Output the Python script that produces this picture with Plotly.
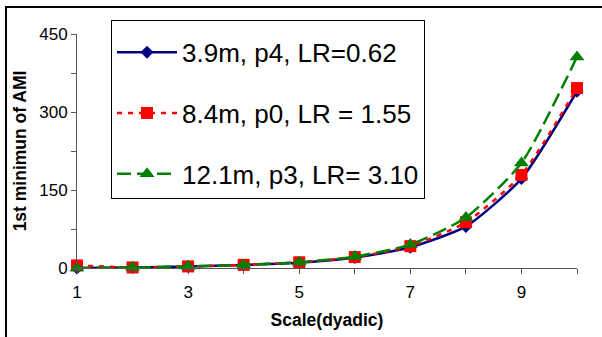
import plotly.graph_objects as go

scale = [1, 2, 3, 4, 5, 6, 7, 8, 9, 10]
s1_name = "3.9m, p4, LR=0.62"
s1 = [0, 1, 3, 6, 10, 20, 40, 80, 172, 340]
s2_name = "8.4m, p0, LR = 1.55"
s2 = [5, 1, 3, 6, 11, 21, 42, 88, 179, 346]
s3_name = "12.1m, p3, LR= 3.10"
s3 = [0, 1, 3, 6, 11, 22, 45, 97, 202, 406]

x_ticks = [1, 3, 5, 7, 9]
y_ticks = [0, 150, 300, 450]

fig = go.Figure()
fig.add_trace(go.Scatter(x=scale, y=s1, name=s1_name, mode="lines+markers", legendgroup="a",
                         line=dict(color="#000080", width=2.5, shape="spline", smoothing=0.6),
                         marker=dict(symbol="diamond", size=10, color="#000080"), cliponaxis=False))
fig.add_trace(go.Scatter(x=scale, y=s2, name=s2_name, mode="lines+markers", legendgroup="b",
                         line=dict(color="#FF0000", width=2.5, dash="5px,6px", shape="spline", smoothing=0.6),
                         marker=dict(symbol="square", size=12, color="#FF0000"), cliponaxis=False))
fig.add_trace(go.Scatter(x=scale, y=s3, name=s3_name, mode="lines+markers", legendgroup="c",
                         line=dict(color="#008000", width=2.5, dash="14px,6px", shape="spline", smoothing=0.6),
                         marker=dict(symbol="triangle-up", size=13, color="#008000"), cliponaxis=False))

fig.update_layout(
    width=602, height=337,
    margin=dict(l=77, r=25, t=34, b=69),
    plot_bgcolor="white", paper_bgcolor="white",
    font=dict(family="Arial, Liberation Sans", color="black"),
    showlegend=True,
    legend=dict(x=0.068, y=1.06, xanchor="left", yanchor="top",
                bordercolor="black", borderwidth=1, bgcolor="white",
                font=dict(size=26), tracegroupgap=24, traceorder="grouped",
                itemwidth=60, maxheight=400,
                title=dict(text="&nbsp;", font=dict(size=6))),
    xaxis=dict(range=[1, 10], tickvals=x_ticks, showgrid=False, zeroline=False,
               showline=True, linecolor="#555", linewidth=1, automargin=False,
               ticks="outside", ticklen=5, tickcolor="#555",
               minor=dict(dtick=1, tick0=1, ticks="outside", ticklen=5, tickcolor="#555", showgrid=False),
               tickfont=dict(size=17), ticklabelstandoff=4,
               title=dict(text="<b>Scale(dyadic)</b>", font=dict(size=17.5), standoff=12)),
    yaxis=dict(range=[0, 450], tickvals=y_ticks, showgrid=False, zeroline=False,
               showline=True, linecolor="#555", linewidth=1, automargin=False,
               ticks="outside", ticklen=5, tickcolor="#555",
               minor=dict(dtick=75, tick0=0, ticks="outside", ticklen=5, tickcolor="#555", showgrid=False),
               tickfont=dict(size=17),
               title=dict(text="<b>1st minimun of AMI</b>", font=dict(size=17.5), standoff=8)),
)

fig.add_shape(type="rect", xref="paper", yref="paper",
              x0=(6 - 77) / 500, x1=1.2, y0=-0.6, y1=(268 - 7) / 234,
              line=dict(color="black", width=2), layer="below")

fig.write_html("out.html")
